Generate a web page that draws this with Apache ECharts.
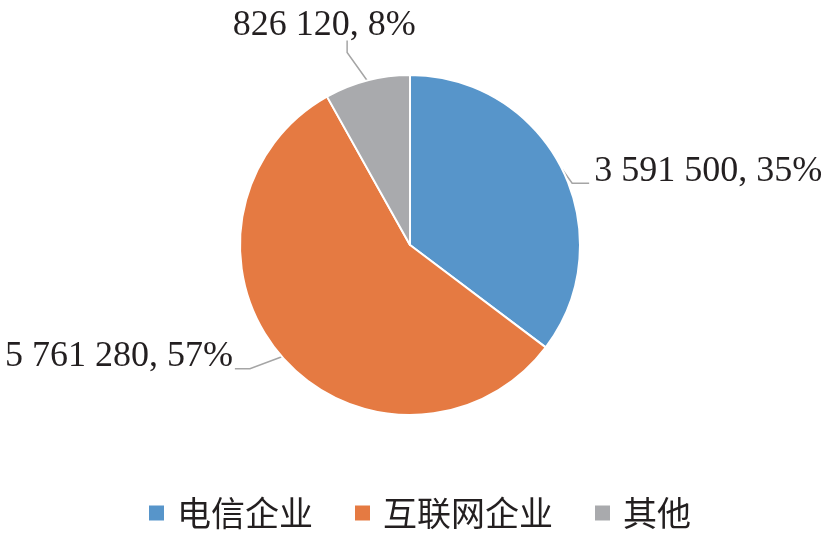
<!DOCTYPE html>
<html><head><meta charset="utf-8">
<script src="https://cdn.jsdelivr.net/npm/echarts@6/dist/echarts.min.js"></script>
<style>html,body{margin:0;padding:0;background:#fff}#c{width:831px;height:536px}</style>
</head><body><div id="c"></div>
<script>
const categories = ['电信企业', '互联网企业', '其他'];
const values = [3591500, 5761280, 826120];
const colors = ['#5795CA', '#E57A42', '#A9AAAD'];

const total = values.reduce((a, b) => a + b, 0);
function fmt(n) { return String(n).replace(/\B(?=(\d{3})+(?!\d))/g, ' '); }

const chart = echarts.init(document.getElementById('c'));
chart.setOption({
  animation: false,
  color: colors,
  legend: {
    top: 496,
    left: 147,
    padding: 0,
    icon: 'rect',
    itemWidth: 17,
    itemHeight: 17,
    itemGap: 40,
    textStyle: { fontFamily: 'Noto Sans CJK SC', fontSize: 34, color: '#231F20', padding: [0, 0, 0, 7] },
    data: categories
  },
  series: [{
    type: 'pie',
    center: [410, 245],
    radius: 170,
    startAngle: 90,
    clockwise: true,
    itemStyle: { borderColor: '#fff', borderWidth: 2 },
    label: {
      show: true,
      position: 'outside',
      fontFamily: 'Liberation Serif',
      fontSize: 36,
      color: '#231F20',
      overflow: 'none',
      formatter: p => fmt(p.value) + ', ' + Math.round(p.value / total * 100) + '%'
    },
    labelLine: { show: true, length: 15, length2: 15, lineStyle: { color: '#A5A5A5', width: 1.5 } },
    data: categories.map((n, i) => ({ name: n, value: values[i] }))
  }]
});
chart.setOption({
  series: [{
    labelLayout: function (params) {
      const p0 = params.labelLinePoints[0];
      if (params.dataIndex === 0) {
        const p1 = [p0[0] + 10, p0[1] + 14];
        const p2 = [p1[0] + 17, p1[1]];
        return { x: p2[0] + 5, y: p2[1] - 12, width: 260, align: 'left', verticalAlign: 'middle', labelLinePoints: [p0, p1, p2] };
      } else if (params.dataIndex === 1) {
        const p1 = [p0[0] - 32, p0[1] + 12];
        const p2 = [p1[0] - 15, p1[1]];
        return { x: p2[0] - 2, y: p2[1] - 12, width: 260, align: 'right', verticalAlign: 'middle', labelLinePoints: [p0, p1, p2] };
      } else {
        const p1 = [p0[0] - 20, p0[1] - 28];
        const p2 = [p1[0], p1[1] - 12];
        return { x: p2[0] - 23, y: p2[1] + 3, width: 260, align: 'center', verticalAlign: 'bottom', labelLinePoints: [p0, p1, p2] };
      }
    }
  }]
});
</script></body></html>
